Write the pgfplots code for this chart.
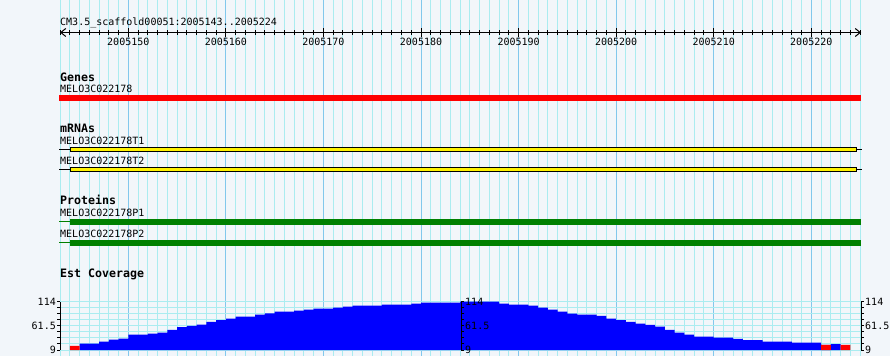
\documentclass[border=0pt]{standalone}
\usepackage{pgfplots}
\pgfplotsset{compat=1.18}
\usetikzlibrary{arrows.meta}
\usepackage{fontspec}
\newfontfamily\monofont{DejaVu Sans Mono}
\newcommand\sm{\monofont\fontsize{10}{12}\selectfont}
\newcommand\bm{\monofont\bfseries\fontsize{11.6}{14}\selectfont}
\definecolor{bgc}{RGB}{242,246,250}
\definecolor{gmin}{RGB}{170,236,240}
\definecolor{gmaj}{RGB}{130,200,236}
\definecolor{protgreen}{RGB}{0,128,0}
\begin{document}
\begin{tikzpicture}[x=1pt,y=1pt]
\fill[bgc] (0,0) rectangle (890,356);
% main axis: grid, tracks, labels
\begin{axis}[at={(0pt,0pt)}, anchor=south west, scale only axis, width=890pt, height=356pt,
  xmin=-6.1494, xmax=85.0671, ymin=0, ymax=356, y dir=reverse, clip=false,
  axis line style={draw=none}, major tick length=0pt, minor tick length=0pt,
  xtick={7,17,...,77},
  minor xtick={0,1,2,3,4,5,6,8,9,10,11,12,13,14,15,16,18,19,20,21,22,23,24,25,26,27,28,29,30,31,32,33,34,35,36,38,39,40,41,42,43,44,45,46,48,49,50,51,52,53,54,55,56,58,59,60,61,62,63,64,65,66,68,69,70,71,72,73,74,75,76,78,79,80,81,82},
  ytick=\empty, xticklabels={},
  xmajorgrids, xminorgrids,
  major grid style={gmaj, line width=1pt}, minor grid style={gmin, line width=1pt}]
% Genes
\addplot[red, line width=6pt] coordinates {(-0.1,98) (82.1,98)};
% mRNAs
\addplot[black, line width=1pt] coordinates {(-0.1,149.5) (82.2,149.5)};
\addplot[black, line width=5pt] coordinates {(1.025,149.5) (81.685,149.5)};
\addplot[yellow, line width=3pt] coordinates {(1.127,149.5) (81.58,149.5)};
\addplot[black, line width=1pt] coordinates {(-0.1,169.5) (82.2,169.5)};
\addplot[black, line width=5pt] coordinates {(1.025,169.5) (81.685,169.5)};
\addplot[yellow, line width=3pt] coordinates {(1.127,169.5) (81.58,169.5)};
% Proteins
\addplot[protgreen, line width=1pt] coordinates {(-0.1,221.5) (1.1,221.5)};
\addplot[protgreen, line width=6pt] coordinates {(1.025,222) (82.1,222)};
\addplot[protgreen, line width=1pt] coordinates {(-0.1,242.5) (1.1,242.5)};
\addplot[protgreen, line width=6pt] coordinates {(1.025,243) (82.1,243)};
% texts
\node[anchor=base west, inner sep=0pt, font=\sm] at (axis cs:0,25.5) {CM3.5\_scaffold00051:2005143..2005224};
\node[anchor=base west, inner sep=0pt, font=\bm] at (axis cs:0,81) {Genes};
\node[anchor=base west, inner sep=0pt, font=\sm] at (axis cs:0,92) {MELO3C022178};
\node[anchor=base west, inner sep=0pt, font=\bm] at (axis cs:0,132.5) {mRNAs};
\node[anchor=base west, inner sep=0pt, font=\sm] at (axis cs:0,144.5) {MELO3C022178T1};
\node[anchor=base west, inner sep=0pt, font=\sm] at (axis cs:0,164.5) {MELO3C022178T2};
\node[anchor=base west, inner sep=0pt, font=\bm] at (axis cs:0,204) {Proteins};
\node[anchor=base west, inner sep=0pt, font=\sm] at (axis cs:0,216.7) {MELO3C022178P1};
\node[anchor=base west, inner sep=0pt, font=\sm] at (axis cs:0,237.3) {MELO3C022178P2};
\node[anchor=base west, inner sep=0pt, font=\bm] at (axis cs:0,277.3) {Est Coverage};
\end{axis}
% ruler
\begin{axis}[at={(60pt,323.5pt)}, anchor=south west, scale only axis, width=801pt, height=1pt,
  xmin=0, xmax=82.095, ymin=0, ymax=1,
  axis y line=none, axis x line*=bottom,
  x axis line style={line width=1pt, arrows={Straight Barb[length=5pt,width=8pt]-Straight Barb[length=5pt,width=8pt]}},
  xtick={7,17,...,77}, minor xtick={0,1,...,82},
  xticklabels={2005150,2005160,2005170,2005180,2005190,2005200,2005210,2005220},
  tick align=center, major tick length=9pt, minor tick length=5pt,
  tick style={black, line width=1pt},
  /pgf/number format/assume math mode=true,
  xticklabel style={font=\sm, inner sep=0pt, anchor=north, yshift=-1pt}]
\end{axis}
% coverage data + left axis
\begin{axis}[at={(60pt,6pt)}, anchor=south west, scale only axis, width=801pt, height=48.3pt,
  xmin=0, xmax=82.095, ymin=9, ymax=114,
  axis x line=none, axis y line*=left,
  ytick={9,61.5,114}, yticklabels={9,61.5,114},
  minor ytick={22.125,35.25,48.375,74.625,87.75,100.875},
  tick align=outside, major tick length=3pt, minor tick length=3pt,
  tick style={black, line width=1pt}, y axis line style={line width=1pt},
  ymajorgrids, yminorgrids,
  major grid style={gmin, line width=1pt}, minor grid style={gmin, line width=1pt},
  /pgf/number format/assume math mode=true,
  yticklabel style={font=\sm, inner sep=0pt, xshift=-1pt}]
\addplot[const plot mark left, fill=blue, draw=none] coordinates {
(2,22.7) (3,22.7) (4,27.0) (5,31.4) (6,33.6) (7,42.3) (8,42.3) (9,44.4) (10,46.6)
(11,52.5) (12,59.0) (13,61.2) (14,64.0) (15,69.9) (16,74.2) (17,77.0) (18,81.4) (19,81.4)
(20,85.7) (21,88.4) (22,92.3) (23,92.3) (24,94.4) (25,96.6) (26,98.8) (27,98.8) (28,101.0)
(29,103.1) (30,105.3) (31,105.3) (32,105.3) (33,107.5) (34,107.5) (35,107.5) (36,109.6)
(37,111.8) (38,111.8) (39,111.8) (40,111.8) (41,114) (42,114) (43,114) (44,114)
(45,109.6) (46,107.5) (47,107.5) (48,105.3) (49,101.0) (50,96.6) (51,92.3) (52,88.0)
(53,85.7) (54,85.7) (55,83.0) (56,77.0) (57,74.2) (58,69.9) (59,66.2) (60,63.4)
(61,59.7) (62,52.5) (63,46.6) (64,42.3) (65,37.9) (66,37.9) (67,35.7) (68,35.7)
(69,33.0) (70,30.7) (71,30.7) (72,27.0) (73,27.0) (74,27.0) (75,24.9) (76,24.9)
(77,24.9) (78,19.9) (79,22.0) (80,22.0)} \closedcycle;
\addplot[const plot mark left, fill=red, draw=none] coordinates {(1,17.7) (2,17.7)} \closedcycle;
\addplot[const plot mark left, fill=red, draw=none] coordinates {(78,19.9) (79,19.9)} \closedcycle;
\addplot[const plot mark left, fill=red, draw=none] coordinates {(80,19.9) (81,19.9)} \closedcycle;
\end{axis}
% middle axis
\begin{axis}[at={(60pt,6pt)}, anchor=south west, scale only axis, width=401pt, height=48.3pt,
  xmin=0, xmax=41.1, ymin=9, ymax=114,
  axis x line=none, axis y line*=right,
  ytick={9,61.5,114}, yticklabels={9,61.5,114},
  minor ytick={22.125,35.25,48.375,74.625,87.75,100.875},
  tick align=outside, major tick length=3pt, minor tick length=3pt,
  tick style={black, line width=1pt}, y axis line style={line width=1pt},
  /pgf/number format/assume math mode=true,
  yticklabel style={font=\sm, inner sep=0pt, xshift=1pt}]
\end{axis}
% right axis
\begin{axis}[at={(60pt,6pt)}, anchor=south west, scale only axis, width=801pt, height=48.3pt,
  xmin=0, xmax=82.095, ymin=9, ymax=114,
  axis x line=none, axis y line*=right,
  ytick={9,61.5,114}, yticklabels={9,61.5,114},
  minor ytick={22.125,35.25,48.375,74.625,87.75,100.875},
  tick align=outside, major tick length=3pt, minor tick length=3pt,
  tick style={black, line width=1pt}, y axis line style={line width=1pt},
  /pgf/number format/assume math mode=true,
  yticklabel style={font=\sm, inner sep=0pt, xshift=1pt}]
\end{axis}
\pgfresetboundingbox
\useasboundingbox (0,0) rectangle (890,356);
\end{tikzpicture}
\end{document}
